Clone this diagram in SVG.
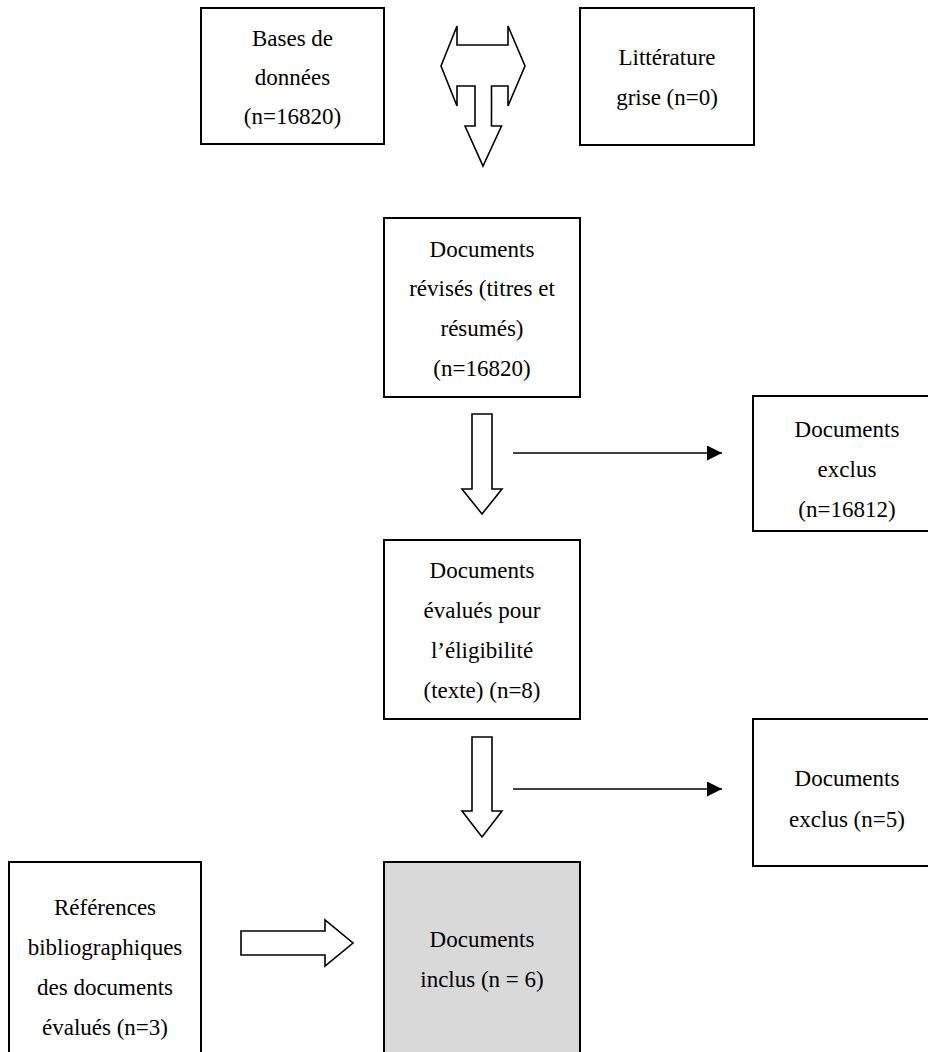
<svg xmlns="http://www.w3.org/2000/svg" width="928" height="1052" viewBox="0 0 928 1052">
<defs>
<style>
.box{fill:#ffffff;stroke:#000000;stroke-width:2}
.gray{fill:#d9d9d9;stroke:#000000;stroke-width:2}
.blk{fill:none;stroke:#000000;stroke-width:1.6;stroke-linejoin:miter}
.line{fill:none;stroke:#000000;stroke-width:1.6}
.t{font-family:'Liberation Serif','Times New Roman',Times,'DejaVu Serif',serif;font-size:23px;fill:#000000;text-anchor:middle}
</style>
<marker id="ah" markerWidth="15" markerHeight="15" viewBox="0 0 15 15" refX="15" refY="7.5" orient="auto" markerUnits="userSpaceOnUse">
<path d="M0,0 L15,7.5 L0,15 Z" fill="#000000"/>
</marker>
</defs>
<rect width="928" height="1052" fill="#ffffff"/>

<g id="bases">
<rect class="box" x="201" y="8" width="183" height="136"/>
<text class="t" font-family="Liberation Serif, serif" x="292.5" y="46">Bases de</text>
<text class="t" font-family="Liberation Serif, serif" x="292.5" y="85">données</text>
<text class="t" font-family="Liberation Serif, serif" x="292.5" y="124">(n=16820)</text>
</g>

<g id="litterature">
<rect class="box" x="580" y="8" width="174" height="137"/>
<text class="t" font-family="Liberation Serif, serif" x="667" y="65">Littérature</text>
<text class="t" font-family="Liberation Serif, serif" x="667" y="105">grise (n=0)</text>
</g>

<g id="revises">
<rect class="box" x="384" y="218" width="196" height="179"/>
<text class="t" font-family="Liberation Serif, serif" x="482" y="257">Documents</text>
<text class="t" font-family="Liberation Serif, serif" x="482" y="296">révisés (titres et</text>
<text class="t" font-family="Liberation Serif, serif" x="482" y="336">résumés)</text>
<text class="t" font-family="Liberation Serif, serif" x="482" y="376">(n=16820)</text>
</g>

<g id="exclus1">
<rect class="box" x="753" y="396" width="190" height="135"/>
<text class="t" font-family="Liberation Serif, serif" x="847" y="437">Documents</text>
<text class="t" font-family="Liberation Serif, serif" x="847" y="477">exclus</text>
<text class="t" font-family="Liberation Serif, serif" x="847" y="517">(n=16812)</text>
</g>

<g id="evalues">
<rect class="box" x="384" y="540" width="196" height="179"/>
<text class="t" font-family="Liberation Serif, serif" x="482" y="578">Documents</text>
<text class="t" font-family="Liberation Serif, serif" x="482" y="618">évalués pour</text>
<text class="t" font-family="Liberation Serif, serif" x="482" y="658">l’éligibilité</text>
<text class="t" font-family="Liberation Serif, serif" x="482" y="698">(texte) (n=8)</text>
</g>

<g id="exclus2">
<rect class="box" x="753" y="719" width="190" height="147"/>
<text class="t" font-family="Liberation Serif, serif" x="847" y="786">Documents</text>
<text class="t" font-family="Liberation Serif, serif" x="847" y="827">exclus (n=5)</text>
</g>

<g id="references">
<rect class="box" x="9" y="862" width="192" height="200"/>
<text class="t" font-family="Liberation Serif, serif" x="105" y="915">Références</text>
<text class="t" font-family="Liberation Serif, serif" x="105" y="955">bibliographiques</text>
<text class="t" font-family="Liberation Serif, serif" x="105" y="995">des documents</text>
<text class="t" font-family="Liberation Serif, serif" x="105" y="1035">évalués (n=3)</text>
</g>

<g id="inclus">
<rect class="gray" x="384" y="862" width="196" height="200"/>
<text class="t" font-family="Liberation Serif, serif" x="482" y="947">Documents</text>
<text class="t" font-family="Liberation Serif, serif" x="482" y="987">inclus (n = 6)</text>
</g>

<g id="connectors">
<path class="blk" d="M441,66 L457,26 L457,45 L508,45 L508,26 L525,66 L508,106 L508,86 L491.5,86 L491.5,126 L501.5,126 L483,166 L465,126 L475,126 L475,86 L457,86 L457,106 Z"/>
<path class="blk" d="M472,414 L492,414 L492,489 L502,489 L482,514 L462,489 L472,489 Z"/>
<path class="blk" d="M472,737 L492,737 L492,811 L502,811 L482,837 L462,811 L472,811 Z"/>
<path class="blk" d="M241,931 L325,931 L325,920 L353,943 L325,966 L325,955 L241,955 Z"/>
<line class="line" x1="513" y1="453" x2="722" y2="453" marker-end="url(#ah)"/>
<line class="line" x1="513" y1="789" x2="722" y2="789" marker-end="url(#ah)"/>
</g>
</svg>
